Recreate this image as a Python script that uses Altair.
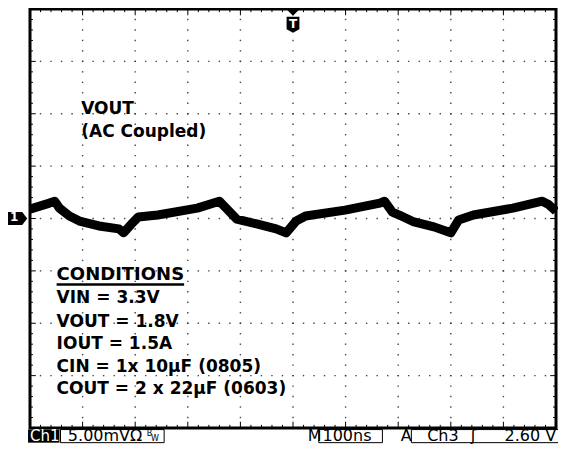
import altair as alt
import pandas as pd

# ---- waveform (time in ns, 100 ns/div; VOUT ripple in mV, 5 mV/div) ----
time_ns = [0, 37, 47, 56, 75, 94, 131, 169, 178, 193, 206, 243, 318, 360, 371,
           393, 431, 468, 487, 506, 524, 599, 665, 674, 689, 702, 730, 768, 800,
           815, 843, 918, 974, 985, 1000]
vout_mv = [0.90, 1.47, 1.65, 0.99, 0.24, -0.24, -0.71, -0.99, -1.37, -0.52, 0.14,
           0.33, 0.99, 1.65, 1.09, -0.05, -0.52, -0.99, -1.37, -0.24, 0.24, 0.80,
           1.47, 1.65, 0.61, 0.33, -0.33, -0.80, -1.37, -0.14, 0.33, 0.99, 1.65,
           1.37, 0.70]

# ---- annotation text ----
label_lines = ["VOUT", "(AC Coupled)"]
label_y = [9.98, 7.80]
cond_title = "CONDITIONS"
cond_lines = ["VIN = 3.3V", "VOUT = 1.8V", "IOUT = 1.5A",
              "CIN = 1x 10µF (0805)", "COUT = 2 x 22µF (0603)"]
cond_y = [-8.09, -10.36, -12.43, -14.61, -16.78]

# ---- scope readout ----
readout_text = ["5.00mVΩ", "M", "100ns", "A", "Ch3", "ʃ", "2.60 V"]
readout_x = [72, 528, 556, 705, 755, 838, 902]
readout_boxes_x = [58, 549, 725]
readout_boxes_x2 = [255, 670, 1015]

XD = [0, 1000]
YD = [-20, 20]


def X(field="x"):
    return alt.X(f"{field}:Q", scale=alt.Scale(domain=XD, nice=False, zero=False), axis=None)


def Y(field="y"):
    return alt.Y(f"{field}:Q", scale=alt.Scale(domain=YD, nice=False, zero=False), axis=None)


# grid dots (10 x 8 divisions, 5 minor per division)
dots = []
for gx in range(100, 1000, 100):
    for k in range(0, 41):
        dots.append({"x": gx, "y": -20 + k})
for gy in range(-15, 20, 5):
    for k in range(0, 51):
        dots.append({"x": k * 20, "y": gy})
grid = alt.Chart(pd.DataFrame(dots)).mark_square(size=2, color="#333333", opacity=0.9).encode(
    x=X(), y=Y())

# border ticks
ticks = []
for k in range(1, 50):
    t = k * 20
    ln = 0.6 if k % 5 == 0 else 0.3
    ticks.append({"x": t, "x2": t, "y": -20, "y2": -20 + ln})
    ticks.append({"x": t, "x2": t, "y": 20, "y2": 20 - ln})
for k in range(1, 40):
    v = -20 + k
    ln = 11 if k % 5 == 0 else 5.6
    ticks.append({"x": 0, "x2": ln, "y": v, "y2": v})
    ticks.append({"x": 1000, "x2": 1000 - ln, "y": v, "y2": v})
tick_layer = alt.Chart(pd.DataFrame(ticks)).mark_rule(color="black", strokeWidth=1).encode(
    x=X(), x2="x2:Q", y=Y(), y2="y2:Q")

border = alt.Chart(pd.DataFrame([{"x": 0, "x2": 1000, "y": -20, "y2": 20}])).mark_rect(
    filled=False, stroke="black", strokeWidth=3).encode(x=X(), x2="x2:Q", y=Y(), y2="y2:Q")

trace = alt.Chart(pd.DataFrame({"x": time_ns, "y": vout_mv})).mark_line(
    color="black", strokeWidth=9, strokeJoin="round").encode(x=X(), y=Y(), order="x:Q")

# labels
lab = alt.Chart(pd.DataFrame({"x": [97.4] * 2, "y": label_y, "t": label_lines})).mark_text(
    align="left", baseline="alphabetic", font="DejaVu Sans", fontWeight="bold", fontSize=17,
    color="black").encode(x=X(), y=Y(), text="t:N")
ctitle = alt.Chart(pd.DataFrame({"x": [50.6], "y": [-5.91], "t": [cond_title]})).mark_text(
    align="left", baseline="alphabetic", font="DejaVu Sans", fontWeight="bold", fontSize=18,
    color="black").encode(x=X(), y=Y(), text="t:N")
uline = alt.Chart(pd.DataFrame({"x": [50.6], "x2": [293], "y": [-6.3]})).mark_rule(
    color="black", strokeWidth=2.5).encode(x=X(), x2="x2:Q", y=Y())
clines = alt.Chart(pd.DataFrame({"x": [50.6] * 5, "y": cond_y, "t": cond_lines})).mark_text(
    align="left", baseline="alphabetic", font="DejaVu Sans", fontWeight="bold", fontSize=17,
    color="black").encode(x=X(), y=Y(), text="t:N")

# trigger marker
tri = alt.Chart(pd.DataFrame({"x": [500], "y": [19.67]})).mark_point(
    shape="M-1,-0.5L1,-0.5L0,0.5Z", size=169, filled=True, color="black", opacity=1,
    strokeWidth=0).encode(x=X(), y=Y())
shield = alt.Chart(pd.DataFrame({"x": [500], "y": [18.49]})).mark_point(
    shape="M-0.8,-1L0.8,-1L0.8,0.55L0,1L-0.8,0.55Z", size=256, filled=True, color="black",
    opacity=1, strokeWidth=0).encode(x=X(), y=Y())
tlab = alt.Chart(pd.DataFrame({"x": [500], "y": [18.6], "t": ["T"]})).mark_text(
    align="center", baseline="middle", font="DejaVu Sans", fontWeight="bold", fontSize=12,
    color="white").encode(x=X(), y=Y(), text="t:N")

# channel 1 ground marker
ch1m = alt.Chart(pd.DataFrame({"x": [-24.3], "y": [0]})).mark_point(
    shape="M-1,-0.65L0.5,-0.65L1,0L0.5,0.65L-1,0.65Z", size=400, filled=True, color="black",
    opacity=1, strokeWidth=0).encode(x=X(), y=Y())
ch1t = alt.Chart(pd.DataFrame({"x": [-30], "y": [0.1], "t": ["1"]})).mark_text(
    align="center", baseline="middle", font="DejaVu Sans", fontWeight="bold", fontSize=12,
    color="white").encode(x=X(), y=Y(), text="t:N")

# readout bar
ch1bg = alt.Chart(pd.DataFrame({"x": [-3.7], "x2": [56], "y": [-20.15], "y2": [-21.4]})).mark_rect(
    color="black").encode(x=X(), x2="x2:Q", y=Y(), y2="y2:Q")
ch1lab = alt.Chart(pd.DataFrame({"x": [0], "y": [-21.2], "t": ["Ch1"]})).mark_text(
    align="left", baseline="alphabetic", font="DejaVu Sans", fontSize=15, color="white").encode(
    x=X(), y=Y(), text="t:N")
boxes = alt.Chart(pd.DataFrame({"x": readout_boxes_x, "x2": readout_boxes_x2,
                                "y": [-20.15] * 3, "y2": [-21.4] * 3})).mark_rect(
    filled=False, stroke="black", strokeWidth=1).encode(x=X(), x2="x2:Q", y=Y(), y2="y2:Q")
rtext = alt.Chart(pd.DataFrame({"x": readout_x, "y": [-21.2] * len(readout_x),
                                "t": readout_text})).mark_text(
    align="left", baseline="alphabetic", font="DejaVu Sans", fontSize=16, color="black").encode(
    x=X(), y=Y(), text="t:N")
bw = alt.Chart(pd.DataFrame({"x": [222, 230], "y": [-20.75, -21.2], "t": ["B", "W"]})).mark_text(
    align="left", baseline="alphabetic", font="DejaVu Sans", fontSize=8, color="black").encode(
    x=X(), y=Y(), text="t:N")

chart = alt.layer(
    grid, tick_layer, border, trace, lab, ctitle, uline, clines, tri, shield, tlab,
    ch1m, ch1t, ch1bg, ch1lab, boxes, rtext, bw
).properties(
    width=526, height=419,
    autosize=alt.AutoSizeParams(type="none"),
    padding={"left": 22, "top": 1, "right": 2, "bottom": 20},
    background="white",
).configure_view(strokeWidth=0)

chart.save("out.html", embed_options={"renderer": "svg", "actions": False})
